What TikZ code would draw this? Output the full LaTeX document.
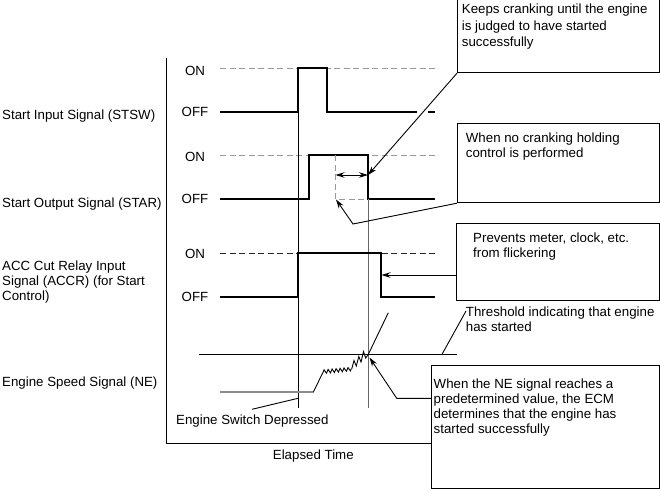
\documentclass[tikz,border=0pt]{standalone}
\usepackage{fontspec}
\setmainfont{Liberation Sans}
\usetikzlibrary{arrows.meta,decorations.pathmorphing}
\begin{document}
\begin{tikzpicture}[x=1pt,y=-1pt,
  lbl/.style={anchor=north west,inner sep=0,align=left,font=\fontsize{13.3}{15}\selectfont},
  lblb/.style={anchor=base west,inner sep=0,font=\fontsize{13.3}{15}\selectfont},
  onoff/.style={anchor=base,inner sep=0,font=\fontsize{13.3}{15}\selectfont},
  sig/.style={line width=1.7pt,line join=miter},
  thinline/.style={line width=0.9pt},
  refgray/.style={dash pattern=on 6pt off 3.5pt,line width=1pt,black!40},
  refdark/.style={dash pattern=on 6pt off 3.5pt,line width=1pt,black!85},
  box/.style={draw,line width=1.2pt,inner sep=0,anchor=north west},
  arr/.style={-{Stealth[length=9pt,width=5.5pt]}},
]
\useasboundingbox (0,0) rectangle (660,490);

% frame
\draw[line width=1.1pt] (166.5,58) -- (166.5,443.3) -- (431,443.3);

% left labels
\node[lblb] (lstsw) at (2,119.5) {Start Input Signal (STSW)};
\node[lblb] (lstar) at (2,207) {Start Output Signal (STAR)};
\node[lbl] (laccr) at (2,260.7) {ACC Cut Relay Input\\Signal (ACCR) (for Start\\Control)};
\node[lblb] (lne) at (2,386) {Engine Speed Signal (NE)};

% ON/OFF
\node[onoff] (on1) at (195,75) {ON};
\node[onoff] (off1) at (195,116) {OFF};
\node[onoff] (on2) at (195,161) {ON};
\node[onoff] (off2) at (195,203) {OFF};
\node[onoff] (on3) at (195,258.7) {ON};
\node[onoff] (off3) at (195,301) {OFF};

% reference dashed lines
\draw[refgray] (220,68.3) -- (435,68.3);
\draw[refgray] (220,155) -- (435,155);
\draw[refdark] (220,253.3) -- (435,253.3);

% vertical time lines
\draw[thinline] (298,112) -- (298,408);
\draw[line width=0.8pt,black!60] (368,199) -- (368,408);

% STSW signal
\draw[sig] (220,111.7) -- (298,111.7) -- (298,68.3) -- (326.7,68.3) -- (326.7,111.7) -- (417,111.7);
\draw[sig] (428,111.7) -- (435,111.7);

% STAR signal
\draw[sig] (220,199) -- (309,199) -- (309,155) -- (368,155) -- (368,199) -- (435,199);
\draw[refgray] (335.5,155) -- (335.5,199) -- (368,199);
\draw[thinline,{Stealth[length=9pt,width=5.5pt]}-{Stealth[length=9pt,width=5.5pt]}] (335.5,175) -- (368,175);

% ACCR signal
\draw[sig] (220,297.3) -- (298,297.3) -- (298,253.3) -- (381,253.3) -- (381,297.3) -- (435,297.3);

% threshold
\draw[thinline] (199.3,354.3) -- (457,354.3);

% engine speed
\draw[line width=1.6pt,black!45] (220,391.7) -- (313.5,391.7);
\draw[thinline] (313.5,391.7) -- (323.3,371.7);
\draw[thinline,decorate,decoration={zigzag,segment length=4pt,amplitude=1.8pt}] (323.3,371.7) -- (351.7,369);
\draw[thinline] (351.7,369) -- (354,360.5) -- (356.3,366) -- (358.8,356.5) -- (361,362) -- (363.5,351.5) -- (365.7,358) -- (368,355) -- (388.3,312.7);

% annotation boxes
\node[box,minimum width=202pt,minimum height=74pt] (boxA) at (457,-2) {};
\node[lbl,font=\fontsize{13.3}{16.5}\selectfont] (tA) at (461.7,4) {Keeps cranking until the engine\\is judged to have started\\successfully};
\node[box,minimum width=202pt,minimum height=79pt] (boxB) at (457,123) {};
\node[lbl] (tB) at (465.7,133) {When no cranking holding\\control is performed};
\node[box,minimum width=203pt,minimum height=77pt] (boxC) at (456,223) {};
\node[lbl] (tC) at (473,232.7) {Prevents meter, clock, etc.\\from flickering};
\node[lbl] (tTh) at (465.7,307) {Threshold indicating that engine\\has started};
\node[box,minimum width=227.5pt,minimum height=123pt] (boxD) at (431,365) {};
\node[lbl] (tD) at (433.5,379) {When the NE signal reaches a\\predetermined value, the ECM\\determines that the engine has\\started successfully};
\node[lblb] (tSw) at (176,424.3) {Engine Switch Depressed};
\node[onoff] (tEl) at (313.3,459.5) {Elapsed Time};

% callouts
\coordinate (tipA) at (368,175);
\draw[thinline,arr] (boxA.south west) -- (tipA);
\coordinate (kB) at (353,224);
\coordinate (tipB) at (336,199.5);
\draw[thinline,arr] (boxB.south west) -- (kB) -- (tipB);
\coordinate (sC) at (456,275);
\coordinate (tipC) at (381.5,275);
\draw[thinline,arr] (sC) -- (tipC);
\coordinate (sTh) at (466,311);
\coordinate (eTh) at (442,354.3);
\draw[thinline] (sTh) -- (eTh);
\coordinate (sD) at (431,398.3);
\coordinate (kD) at (396.7,398.3);
\coordinate (tipD) at (369.5,357.5);
\draw[thinline,arr] (sD) -- (kD) -- (tipD);
\coordinate (sSw) at (252,409.3);
\coordinate (eSw) at (298,398.3);
\draw[thinline] (sSw) -- (eSw);
\end{tikzpicture}
\end{document}
